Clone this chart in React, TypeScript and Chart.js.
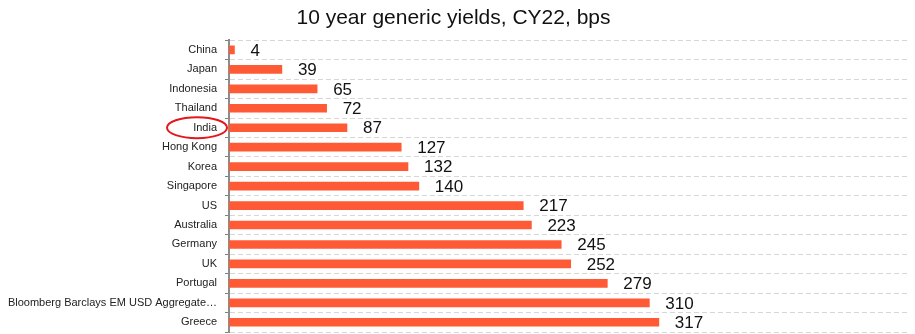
import React, { useEffect, useRef } from "react";
import { Chart, registerables } from "chart.js";

Chart.register(...registerables);

const categories = [
  "China",
  "Japan",
  "Indonesia",
  "Thailand",
  "India",
  "Hong Kong",
  "Korea",
  "Singapore",
  "US",
  "Australia",
  "Germany",
  "UK",
  "Portugal",
  "Bloomberg Barclays EM USD Aggregate…",
  "Greece",
];
const yields = [4, 39, 65, 72, 87, 127, 132, 140, 217, 223, 245, 252, 279, 310, 317];
const titleText = "10 year generic yields, CY22, bps";
const highlighted = "India";

const FONT = "Arial, 'Liberation Sans', sans-serif";

const valueLabels = {
  id: "valueLabels",
  afterDatasetsDraw(chart: any) {
    const { ctx } = chart;
    const meta = chart.getDatasetMeta(0);
    ctx.save();
    ctx.font = `17px ${FONT}`;
    ctx.fillStyle = "#111";
    ctx.textAlign = "left";
    ctx.textBaseline = "middle";
    meta.data.forEach((bar: any, i: number) => {
      ctx.fillText(String(yields[i]), bar.x + 16, bar.y + 1);
    });
    ctx.restore();
  },
};

const highlightEllipse = {
  id: "highlightEllipse",
  afterDraw(chart: any) {
    const idx = categories.indexOf(highlighted);
    if (idx < 0) return;
    const { ctx, chartArea } = chart;
    const y = chart.scales.y.getPixelForValue(idx);
    ctx.save();
    ctx.strokeStyle = "#e3181c";
    ctx.lineWidth = 2;
    ctx.beginPath();
    ctx.ellipse(chartArea.left - 32, y, 30, 10.5, 0, 0, Math.PI * 2);
    ctx.stroke();
    ctx.restore();
  },
};

export default function App() {
  const ref = useRef<HTMLCanvasElement>(null);
  useEffect(() => {
    document.body.style.margin = "0";
    const chart = new Chart(ref.current!, {
      type: "bar",
      data: {
        labels: categories,
        datasets: [
          {
            data: yields,
            backgroundColor: "#ff5a36",
            borderWidth: 0,
            barThickness: 8,
          },
        ],
      },
      options: {
        indexAxis: "y",
        animation: false,
        responsive: false,
        devicePixelRatio: 1,
        layout: { padding: { left: 0, right: 8, top: 0, bottom: 2 } },
        plugins: {
          legend: { display: false },
          tooltip: { enabled: false },
          title: {
            display: true,
            text: titleText,
            color: "#111",
            font: { family: FONT, size: 21, weight: "normal", lineHeight: 1.2 },
            padding: { top: 6, bottom: 9 },
          },
        },
        scales: {
          x: {
            display: false,
            min: 0,
            max: 500,
          },
          y: {
            afterFit(scale: any) {
              scale.width = 229;
              scale.paddingTop = 0;
              scale.paddingBottom = 0;
            },
            grid: {
              offset: true,
              color: "#d6d6d6",
              lineWidth: 1,
              tickLength: 4,
              tickColor: "#808080",
              tickBorderDash: [],
              drawOnChartArea: true,
            },
            border: {
              display: true,
              color: "#8c8c8c",
              width: 2,
              dash: [5, 3],
            },
            ticks: {
              color: "#222",
              padding: 8,
              autoSkip: false,
              font: { family: FONT, size: 11 },
            },
          },
        },
      },
      plugins: [valueLabels, highlightEllipse],
    });
    return () => chart.destroy();
  }, []);
  return <canvas ref={ref} width={915} height={334} style={{ display: "block" }} />;
}
